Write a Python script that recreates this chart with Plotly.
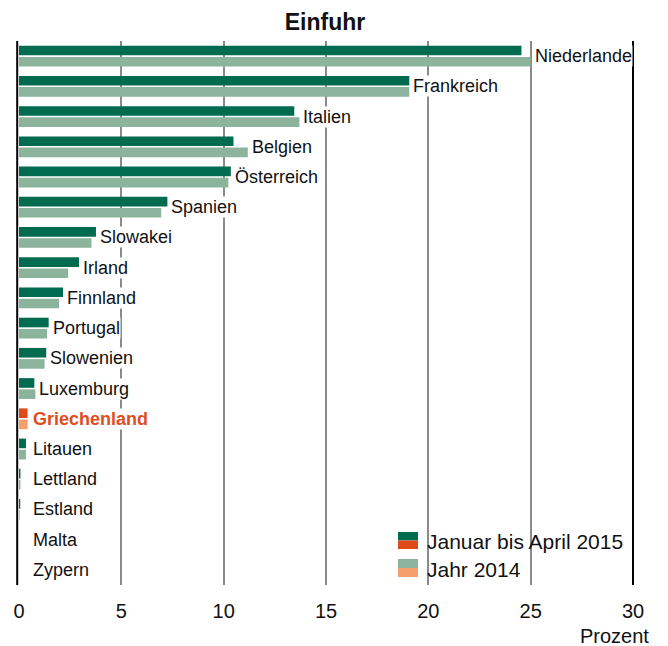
import plotly.graph_objects as go

countries = ["Niederlande", "Frankreich", "Italien", "Belgien", "Österreich", "Spanien",
             "Slowakei", "Irland", "Finnland", "Portugal", "Slowenien", "Luxemburg",
             "Griechenland", "Litauen", "Lettland", "Estland", "Malta", "Zypern"]
jan_apr_2015 = [24.55, 19.07, 13.45, 10.48, 10.35, 7.25, 3.76, 2.93, 2.15, 1.45, 1.33,
                0.75, 0.42, 0.34, 0.07, 0.06, 0.0, 0.0]
year_2014 = [25.0, 19.07, 13.7, 11.18, 10.23, 6.95, 3.54, 2.4, 1.96, 1.37, 1.25,
             0.8, 0.42, 0.34, 0.07, 0.03, 0.0, 0.0]
highlight = "Griechenland"
xticks = [0, 5, 10, 15, 20, 25, 30]

DARK, LIGHT = "#006B4F", "#8CB39B"
DARK_HI, LIGHT_HI = "#DF4A1A", "#F4A06D"
FONT = "Liberation Sans, Arial, sans-serif"

W, H = 668, 646
L, R, T, B = 19, 35, 41, 61
PW, PH = W - L - R, H - T - B


def fx(px):
    return (px - L) / PW


def fy(py):
    return (T + PH - py) / PH


c1 = [DARK_HI if c == highlight else DARK for c in countries]
c2 = [LIGHT_HI if c == highlight else LIGHT for c in countries]

fig = go.Figure()
fig.add_trace(go.Bar(y=countries, x=jan_apr_2015, orientation="h", name="Januar bis April 2015",
                     marker=dict(color=c1, line=dict(width=0)), showlegend=False))
fig.add_trace(go.Bar(y=countries, x=year_2014, orientation="h", name="Jahr 2014",
                     marker=dict(color=c2, line=dict(width=0)), showlegend=False))

annotations = []
for c, a, b in zip(countries, jan_apr_2015, year_2014):
    hi = c == highlight
    annotations.append(dict(
        x=max(a, b, 0.5), y=c, xref="x", yref="y", xanchor="left", yanchor="middle",
        xshift=3, text=f"<b>{c}</b>" if hi else c, showarrow=False, bgcolor="white",
        borderpad=0,
        font=dict(family=FONT, size=18, color="#DF4E1E" if hi else "#111111")))

# Frame: black lines left (just outside the bars' base) and right (at 30)
shapes = [
    dict(type="line", xref="paper", yref="paper", x0=fx(17.2), x1=fx(17.2), y0=0, y1=1,
         line=dict(color="black", width=2), layer="above"),
    dict(type="line", xref="paper", yref="paper", x0=1, x1=1, y0=0, y1=1,
         line=dict(color="black", width=2), layer="above"),
]

# Legend (two-tone swatches)
legend_items = [("Januar bis April 2015", DARK, DARK_HI, 532, 549),
                ("Jahr 2014", LIGHT, LIGHT_HI, 559, 577)]
for label, top_c, bot_c, y0, y1 in legend_items:
    ym = (y0 + y1) / 2
    shapes.append(dict(type="rect", xref="paper", yref="paper", x0=fx(398), x1=fx(418),
                       y0=fy(ym), y1=fy(y0), fillcolor=top_c, line=dict(width=0), layer="above"))
    shapes.append(dict(type="rect", xref="paper", yref="paper", x0=fx(398), x1=fx(418),
                       y0=fy(y1), y1=fy(ym), fillcolor=bot_c, line=dict(width=0), layer="above"))
    annotations.append(dict(x=fx(425), y=fy(ym + 1), xref="paper", yref="paper",
                            xanchor="left", yanchor="middle", text=label, showarrow=False,
                            font=dict(family=FONT, size=21, color="#111111")))

annotations.append(dict(x=fx(651), y=fy(636), xref="paper", yref="paper", xanchor="right",
                        yanchor="middle", text="Prozent", showarrow=False,
                        font=dict(family=FONT, size=20, color="#111111")))

fig.update_layout(
    width=W, height=H, margin=dict(l=L, r=R, t=T, b=B, pad=0),
    paper_bgcolor="white", plot_bgcolor="white",
    barmode="group", bargap=0.26, bargroupgap=0.14,
    title=dict(text="<b>Einfuhr</b>", x=fx(325), xref="paper", xanchor="center",
               y=1 - 22 / H, yref="container", yanchor="middle",
               font=dict(family=FONT, size=23, color="#111111")),
    xaxis=dict(range=[0, 30], tickvals=xticks, ticktext=[str(v) for v in xticks],
               showgrid=True, gridcolor="#8A8A8A", gridwidth=2, zeroline=False,
               showline=False, ticks="outside", ticklen=8, tickcolor="rgba(0,0,0,0)",
               tickfont=dict(family=FONT, size=20, color="#111111"), fixedrange=True),
    yaxis=dict(categoryorder="array", categoryarray=countries, autorange="reversed",
               showticklabels=False, showgrid=False, zeroline=False, fixedrange=True,
               showline=False, ticks=""),
    annotations=annotations, shapes=shapes,
)

fig.write_html("out.html", config={"displayModeBar": False, "staticPlot": True},
               post_script="document.body.style.margin='0';document.body.style.padding='0';")
